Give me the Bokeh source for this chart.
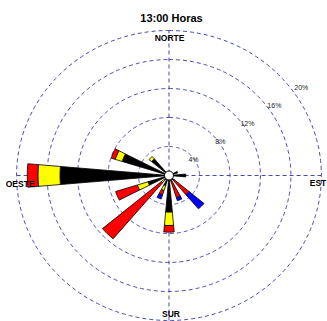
import numpy as np
from bokeh.plotting import figure
from bokeh.models import Range1d
from bokeh.core.properties import value
from bokeh.embed import file_html
from bokeh.resources import INLINE

# ---- data ----
directions = ["N", "NNE", "NE", "ENE", "E", "ESE", "SE", "SSE",
              "S", "SSW", "SW", "WSW", "W", "WNW", "NW", "NNW"]
bearings = [0, 22.5, 45, 67.5, 90, 112.5, 135, 157.5,
            180, 202.5, 225, 247.5, 270, 292.5, 315, 337.5]
# frequency (%) per speed class, per direction
class_black = [0, 0, 0, 1.2, 2.2, 0, 0.9, 0.75, 5.06, 1.5, 0.8, 2.9, 14.3, 6.45, 3.0, 0]
class_yellow = [0, 0, 0, 0, 0, 0, 0, 0, 1.84, 0.67, 0.5, 1.45, 2.9, 0.95, 0.42, 0]
class_red = [0, 0, 0, 0, 0, 0, 2.55, 2.45, 0.92, 0.65, 10.1, 3.0, 1.4, 0.56, 0, 0]
class_blue = [0, 0, 0, 0, 0, 0, 2.55, 0.45, 0, 0.58, 0, 0, 0, 0, 0, 0]
class_colors = ["#000000", "#ffff00", "#ff0000", "#0000ff"]

ring_values = [4, 8, 12, 16, 20]
ring_labels = ["4%", "8%", "12%", "16%", "20%"]
cardinal_labels = ["NORTE", "EST", "SUR", "OESTE"]
title_text = "13:00 Horas"

# ---- figure ----
p = figure(width=327, height=321,
           x_range=Range1d(-22.11, 20.80), y_range=Range1d(-20.14, 24.14),
           x_axis_type=None, y_axis_type=None,
           output_backend="svg", toolbar_location=None, min_border=0)
p.grid.visible = False
p.outline_line_color = None
p.background_fill_color = "white"
p.border_fill_color = "white"

GRID = "#4848b0"
R_OUT = ring_values[-1]

# rings
t = np.linspace(0, 2 * np.pi, 361)
p.multi_line(xs=[list(r * np.sin(t)) for r in ring_values],
             ys=[list(r * np.cos(t)) for r in ring_values],
             line_color=GRID, line_width=1, line_dash="4 3")
# cross lines
p.segment(x0=[-R_OUT, 0], y0=[0, -R_OUT], x1=[R_OUT, 0], y1=[0, R_OUT],
          line_color=GRID, line_width=1, line_dash="4 3")

# petals
half = np.radians(5.0)
classes = [class_black, class_yellow, class_red, class_blue]
xs, ys, cols = [], [], []
for i, b in enumerate(bearings):
    th = np.radians(b)
    a = np.linspace(th - half, th + half, 12)
    r0 = 0.0
    for c, vals in enumerate(classes):
        v = vals[i]
        if v <= 0:
            continue
        r1 = r0 + v
        px = list(r1 * np.sin(a)) + list(r0 * np.sin(a[::-1]))
        py = list(r1 * np.cos(a)) + list(r0 * np.cos(a[::-1]))
        xs.append(px)
        ys.append(py)
        cols.append(class_colors[c])
        r0 = r1
p.patches(xs=xs, ys=ys, fill_color=cols, line_color="black", line_width=0.8)

# calm centre
p.scatter(x=[0], y=[0], size=9, fill_color="white", line_color="black", line_width=1)

# ring labels
lab_b = np.radians(55)
lab_r = np.array(ring_values) * 1.08 - 0.4
p.text(x=list(lab_r * np.sin(lab_b)), y=list(lab_r * np.cos(lab_b)), text=ring_labels,
       text_font=value("Liberation Sans"), text_font_size="7px",
       text_color="#222222", text_align="center", text_baseline="middle")

# cardinal labels
card_x = [0.07, 19.55, 0.26, -19.53]
card_y = [R_OUT - 1.1, -1.0, -R_OUT + 0.92, -1.2]
p.text(x=card_x, y=card_y, text=cardinal_labels,
       text_font=value("Liberation Sans"), text_font_size="8.5px", text_font_style="bold",
       text_color="black", text_align="center", text_baseline="middle")

# title
p.text(x=[0.33], y=[R_OUT * 1.0875], text=[title_text],
       text_font=value("Liberation Sans"), text_font_size="11px", text_font_style="bold",
       text_color="black", text_align="center", text_baseline="middle")

open("out.html", "w").write(file_html(p, INLINE))
